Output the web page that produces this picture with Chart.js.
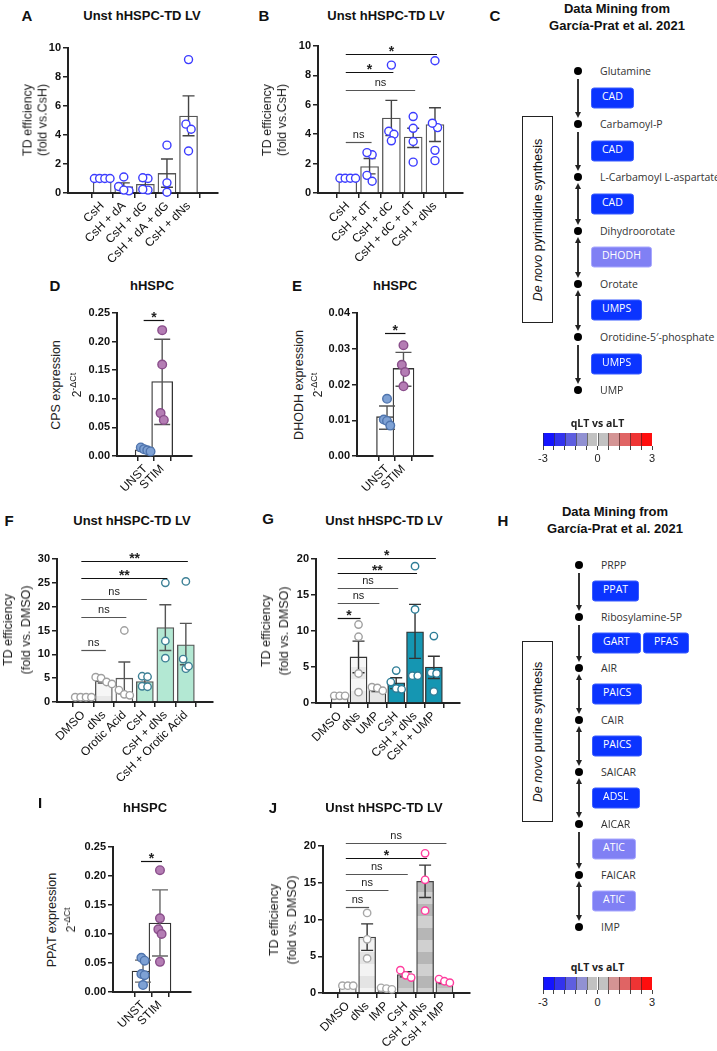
<!DOCTYPE html>
<html>
<head>
<meta charset="utf-8">
<script src="https://cdn.jsdelivr.net/npm/chart.js@4.4.0/dist/chart.umd.min.js"></script>
<style>
  body { margin: 0; width: 717px; height: 1051px; position: relative; background: #fff; overflow: hidden;
         font-family: "Liberation Sans", Arial, sans-serif; color: #111; }
  .pane { position: absolute; }
  .lbl { position: absolute; white-space: nowrap; text-align: center; }
  .dot { position: absolute; width: 8px; height: 8px; border-radius: 50%; background: #000; }
  .met { position: absolute; font: 10.5px "Open Sans", sans-serif; color: #333; transform: translateY(-50%); white-space: nowrap; }
  .enz { position: absolute; height: 21px; line-height: 21px; padding: 0 10px; border-radius: 3px; box-sizing: border-box;
         color: #fff; font: 10.5px "Open Sans", sans-serif; transform: translateY(-50%); white-space: nowrap; }
  .vline { position: absolute; width: 1.3px; background: #333; }
  .hd { position: absolute; width: 0; height: 0; border-left: 3px solid transparent; border-right: 3px solid transparent; }
  .pathbox { position: absolute; border: 1.5px solid #222; box-sizing: border-box; }
</style>
</head>
<body>
<script>
const FONT = '"Liberation Sans", Arial, sans-serif';
Chart.defaults.font.family = FONT;

// ---- A ----
const aLabels = ['CsH', 'CsH + dA', 'CsH + dG', 'CsH + dA + dG', 'CsH + dNs'];
const aMeans = [1, 0.45, 0.6, 1.35, 5.3];
const aLo = [1, 0.2, 0.35, 0.4, 3.95];
const aHi = [1, 0.7, 0.85, 2.35, 6.7];
const aPoints = [[1, 1, 1, 1], [1.1, 0.45, 0.15, 0.2], [1.0, 1.05, 0.2, 0.25], [3.3, 0.7, 0.05], [9.2, 4.75, 4.4, 2.9]];

// ---- B ----
const bLabels = ['CsH', 'CsH + dT', 'CsH + dC', 'CsH + dC + dT', 'CsH + dNs'];
const bMeans = [1, 1.8, 5.1, 3.8, 4.65];
const bLo = [1, 1.3, 3.9, 3.1, 3.5];
const bHi = [1, 2.35, 6.3, 4.4, 5.8];
const bPoints = [[1, 1, 1, 1], [2.6, 2.75, 1.2, 0.8], [8.7, 4.2, 4.0, 3.55], [5.2, 4.4, 3.5, 2.1], [9.0, 4.45, 4.75, 2.9, 2.2]];
const bSig = [[0, 1, 3.5, 'ns'], [0, 3, 7.0, 'ns'], [0, 2, 8.2, '*'], [0, 4, 9.45, '*']];

// ---- D ----
const stimLabels = ['UNST', 'STIM'];
const dMeans = [0.011, 0.13];
const dLo = [0.008, 0.055];
const dHi = [0.014, 0.204];
const dPoints = [[0.015, 0.012, 0.010, 0.008], [0.22, 0.16, 0.075, 0.063]];
const dSig = [[0, 1, 0.237, '*']];

// ---- E ----
const eMeans = [0.011, 0.0245];
const eLo = [0.0075, 0.0195];
const eHi = [0.014, 0.029];
const ePoints = [[0.016, 0.0102, 0.0098, 0.0085], [0.031, 0.0255, 0.0235, 0.0195]];
const eSig = [[0, 1, 0.0344, '*']];

// ---- F ----
const fLabels = ['DMSO', 'dNs', 'Orotic Acid', 'CsH', 'CsH + dNs', 'CsH + Orotic Acid'];
const fMeans = [1, 4.4, 5.0, 4.3, 15.6, 12.0];
const fLo = [1, 4.0, 1.7, 3.6, 10.8, 7.8];
const fHi = [1, 4.7, 8.4, 4.9, 20.4, 16.5];
const fPoints = [[1, 1, 1, 1], [5.2, 5.0, 4.2, 3.8], [15, 2.5, 1.6, 1.4], [5.4, 5.3, 3.3, 3.2], [25, 12.8, 9.2], [25.3, 9.0, 7.0, 7.5]];
const fSig = [[0, 1, 10.9, 'ns'], [0, 2, 17.9, 'ns'], [0, 3, 21.6, 'ns'], [0, 4, 26, '**'], [0, 5, 29.6, '**']];

// ---- G ----
const gLabels = ['DMSO', 'dNs', 'UMP', 'CsH', 'CsH + dNs', 'CsH + UMP'];
const gMeans = [1, 6.4, 1.8, 2.8, 9.9, 5.0];
const gLo = [1, 4.2, 1.6, 2.0, 6.2, 3.4];
const gHi = [1, 8.6, 2.1, 3.5, 13.7, 6.5];
const gPoints = [[1, 1, 1], [10.9, 9.2, 4.1, 1.5], [2.2, 2.1, 1.7], [4.5, 2.9, 2.0, 1.9], [19, 13, 3.8, 3.8], [9.3, 4.2, 4.1, 1.6]];
const gSig = [[0, 1, 11.8, '*'], [0, 2, 13.9, 'ns'], [0, 3, 16, 'ns'], [0, 4, 18, '**'], [0, 5, 20.1, '*']];

// ---- I ----
const iMeans = [0.036, 0.119];
const iLo = [0.017, 0.062];
const iHi = [0.055, 0.176];
const iPoints = [[0.059, 0.054, 0.031, 0.029, 0.012], [0.21, 0.127, 0.108, 0.1, 0.052]];
const iSig = [[0, 1, 0.226, '*']];

// ---- J ----
const jLabels = ['DMSO', 'dNs', 'IMP', 'CsH', 'CsH + dNs', 'CsH + IMP'];
const jMeans = [1, 7.6, 0.6, 2.5, 15.2, 1.5];
const jLo = [0.9, 5.8, 0.5, 2.2, 13, 1.3];
const jHi = [1.1, 9.4, 0.7, 2.9, 17.4, 1.8];
const jPoints = [[1, 1, 1], [10.9, 7.3, 4.7], [0.7, 0.6, 0.5], [3.1, 2.4, 2.1], [19, 15.4, 11.2], [1.9, 1.6, 1.4]];
const jSig = [[0, 1, 11.7, 'ns'], [0, 2, 14, 'ns'], [0, 3, 16.2, 'ns'], [0, 4, 18.4, '*'], [0, 5, 20.4, 'ns']];

// ---- pathway diagrams ----
const pyrMetab = ['Glutamine', 'Carbamoyl-P', 'L-Carbamoyl L-aspartate', 'Dihydroorotate', 'Orotate', 'Orotidine-5\u2032-phosphate', 'UMP'];
const pyrEnz = [['CAD'], ['CAD'], ['CAD'], ['DHODH'], ['UMPS'], ['UMPS']];
const pyrEnzVal = [[-3], [-3], [-3], [-1.5], [-3], [-3]];
const pyrArrows = ['d', 'd', 'b', 'b', 'b', 'd'];
const purMetab = ['PRPP', 'Ribosylamine-5P', 'AIR', 'CAIR', 'SAICAR', 'AICAR', 'FAICAR', 'IMP'];
const purEnz = [['PPAT'], ['GART', 'PFAS'], ['PAICS'], ['PAICS'], ['ADSL'], ['ATIC'], ['ATIC']];
const purEnzVal = [[-3], [-3, -3], [-3], [-3], [-3], [-2], [-2]];
const purArrows = ['d', 'd', 'b', 'b', 'b', 'd', 'b'];
const cbColors = ['#1414ff', '#3333ee', '#5e5ee0', '#9191d2', '#c2c2c2', '#c2c2c2', '#d49494', '#e06464', '#ef3434', '#ff0e0e'];
const cbTicks = [-3, 0, 3];

function label(html, x, y, style, rot) {
  const d = document.createElement('div');
  d.className = 'lbl';
  d.innerHTML = html;
  d.style.cssText = `left:${x}px;top:${y}px;transform:translate(-50%,-50%)${rot ? ' rotate(-90deg)' : ''};${style || ''}`;
  document.body.appendChild(d);
}

function el(cls, css, html) {
  const d = document.createElement('div');
  d.className = cls;
  d.style.cssText = css;
  if (html) d.innerHTML = html;
  document.body.appendChild(d);
  return d;
}

function bands(c1, c2) {
  const p = document.createElement('canvas');
  p.width = 4; p.height = 24;
  const g = p.getContext('2d');
  g.fillStyle = c1; g.fillRect(0, 0, 4, 12);
  g.fillStyle = c2; g.fillRect(0, 12, 4, 12);
  return g.createPattern(p, 'repeat');
}

// spread points of equal height sideways, like Prism does
function swarm(vals, dy, dx) {
  const order = vals.map((v, i) => i).sort((a, b) => vals[b] - vals[a]);
  const rows = [];
  order.forEach(i => {
    const row = rows.find(r => Math.abs(vals[r[0]] - vals[i]) < dy);
    if (row) row.push(i); else rows.push([i]);
  });
  const off = new Array(vals.length).fill(0);
  rows.forEach(r => r.forEach((i, j) => { off[i] = (j - (r.length - 1) / 2) * dx; }));
  return off;
}

function errorPlugin(lo, hi, cap, color) {
  return {
    id: 'errorBars',
    afterDatasetDraw(chart, args) {
      if (args.index !== 0) return;
      const { ctx } = chart;
      const x = chart.scales.x, y = chart.scales.y;
      ctx.save();
      ctx.strokeStyle = color;
      ctx.lineWidth = 1.4;
      lo.forEach((l, i) => {
        const px = x.getPixelForValue(i);
        const y1 = y.getPixelForValue(l), y2 = y.getPixelForValue(hi[i]);
        ctx.beginPath();
        ctx.moveTo(px, y1); ctx.lineTo(px, y2);
        ctx.moveTo(px - cap, y1); ctx.lineTo(px + cap, y1);
        ctx.moveTo(px - cap, y2); ctx.lineTo(px + cap, y2);
        ctx.stroke();
      });
      ctx.restore();
    }
  };
}

function sigPlugin(items) {
  return {
    id: 'sig',
    afterDraw(chart) {
      const { ctx } = chart;
      const x = chart.scales.x, y = chart.scales.y;
      ctx.save();
      items.forEach(([a, c, v, txt]) => {
        const x1 = x.getPixelForValue(a) - 2, x2 = x.getPixelForValue(c) + 2;
        const py = Math.round(y.getPixelForValue(v)) + 0.5;
        const ns = txt === 'ns';
        ctx.strokeStyle = ns ? '#555' : '#111';
        ctx.lineWidth = 1.2;
        ctx.beginPath(); ctx.moveTo(x1, py); ctx.lineTo(x2, py); ctx.stroke();
        ctx.fillStyle = '#222';
        ctx.textAlign = 'center';
        ctx.textBaseline = 'alphabetic';
        ctx.font = ns ? `11px ${FONT}` : `bold 14px ${FONT}`;
        ctx.fillText(txt, (x1 + x2) / 2, ns ? py - 5 : py + 1);
      });
      ctx.restore();
    }
  };
}

function panel(o) {
  const [cl, ct, cw, ch] = o.box;
  const [l, t, r, b] = o.area;
  const wrap = el('pane', `left:${cl}px;top:${ct}px;width:${cw}px;height:${ch}px`);
  const cv = document.createElement('canvas');
  cv.width = cw; cv.height = ch;
  wrap.appendChild(cv);

  // x labels are clipped to the x scale box, so give it all the room below the axis
  const xH = ct + ch - b - 2;

  const yUnit = o.yMax / (b - t);
  const xUnit = (o.xMax - o.xMin) / (r - l);
  const pts = [], fills = [], lines = [];
  o.points.forEach((grp, i) => {
    const off = swarm(grp, 8.5 * yUnit, 6.5 * xUnit);
    grp.forEach((v, j) => {
      pts.push({ x: i + off[j], y: v });
      fills.push(o.ptFill[i]);
      lines.push(o.ptLine[i]);
    });
  });

  const axisGrid = { display: true, drawOnChartArea: false, drawTicks: true, tickLength: 5, color: '#222', lineWidth: 1.5 };
  const axisBorder = { display: true, color: '#222', width: 2 };

  new Chart(cv, {
    type: 'bar',
    data: {
      datasets: [
        { data: o.means.map((m, i) => ({ x: i, y: m })), backgroundColor: o.barFill, borderColor: o.barLine,
          borderWidth: 1.3, borderSkipped: 'bottom', barThickness: o.barW, order: 2, clip: false },
        { type: 'scatter', data: pts, pointRadius: o.ptR, pointBackgroundColor: fills, pointBorderColor: lines,
          pointBorderWidth: 1.4, order: 1, clip: false }
      ]
    },
    options: {
      responsive: false,
      animation: false,
      events: [],
      layout: { padding: { left: l - cl - 40, top: t - ct, right: cl + cw - r, bottom: 2 } },
      plugins: { legend: { display: false }, tooltip: { enabled: false } },
      scales: {
        x: {
          type: 'linear', min: o.xMin, max: o.xMax,
          afterFit: s => { s.height = xH; },
          grid: axisGrid, border: axisBorder,
          ticks: { stepSize: 1, autoSkip: false, includeBounds: false, minRotation: 45, maxRotation: 45, padding: 1,
                   color: '#111', font: { size: 12 }, callback: v => o.labels[v] ?? '' }
        },
        y: {
          min: 0, max: o.yMax,
          afterFit: s => { s.width = 40; },
          grid: axisGrid, border: axisBorder,
          ticks: { stepSize: o.yStep, padding: 2, color: '#111', font: { size: 11, weight: 'bold' },
                   callback: v => v.toFixed(o.dec) }
        }
      }
    },
    plugins: [errorPlugin(o.lo, o.hi, o.cap, o.errColor), sigPlugin(o.sig || [])]
  });
}

function pathway(metab, enz, enzVal, arrows, x0, y0, step) {
  metab.forEach((m, k) => {
    const y = y0 + k * step;
    el('dot', `left:${x0 - 4}px;top:${y - 4}px`);
    el('met', `left:${x0 + 22}px;top:${y}px`, m);
  });
  arrows.forEach((a, k) => {
    const y1 = y0 + k * step, y2 = y1 + step;
    el('vline', `left:${x0 - 0.6}px;top:${y1 + 8}px;height:${step - 18}px`);
    el('hd', `left:${x0 - 3}px;top:${y2 - 12}px;border-top:6px solid #222`);
    if (a === 'b') el('hd', `left:${x0 - 3}px;top:${y1 + 6}px;border-bottom:6px solid #222`);
    let left = x0 + 13;
    enz[k].forEach((name, n) => {
      const strong = enzVal[k][n] <= -2.5;
      const box = el('enz', `left:${left}px;top:${(y1 + y2) / 2}px;background:${strong ? '#0b34ff' : '#8080f4'};border:1px solid ${strong ? '#3a5cff' : '#a8a8ff'}`, name);
      left += box.offsetWidth + 2;
    });
  });
}

function colorbar(x, y) {
  const w = 109, cw = w / cbColors.length;
  label('qLT vs aLT', x + w / 2, y - 10, 'font:bold 10.5px "Open Sans",sans-serif;color:#222');
  cbColors.forEach((c, k) => {
    el('pane', `left:${x + k * cw}px;top:${y}px;width:${cw}px;height:13px;background:${c};box-sizing:border-box;border-left:1px solid rgba(40,40,40,0.55)`);
  });
  for (let k = 0; k <= cbColors.length; k++) {
    el('pane', `left:${x + k * cw - 0.5}px;top:${y + 13}px;width:1px;height:4px;background:#444`);
  }
  cbTicks.forEach(v => label(String(v), x + (v + 3) / 6 * w, y + 25, 'font:11px ' + FONT + ';color:#222'));
}

// ---------- charts ----------
const blueLine = '#3c3cff';
panel({ box: [20, 30, 210, 245], area: [68, 48, 218, 193], xMin: -0.89, xMax: 4.67, yMax: 10, yStep: 2, dec: 0,
  labels: aLabels, means: aMeans, lo: aLo, hi: aHi, points: aPoints, cap: 6, errColor: '#444',
  barW: 18, barFill: '#fff', barLine: '#555', ptR: 4, ptFill: aLabels.map(() => '#fff'), ptLine: aLabels.map(() => blueLine) });

panel({ box: [270, 28, 205, 245], area: [318, 46, 463, 193], xMin: -0.7, xMax: 4.62, yMax: 10, yStep: 2, dec: 0,
  labels: bLabels, means: bMeans, lo: bLo, hi: bHi, points: bPoints, sig: bSig, cap: 6, errColor: '#444',
  barW: 18, barFill: '#fff', barLine: '#555', ptR: 4, ptFill: bLabels.map(() => '#fff'), ptLine: bLabels.map(() => blueLine) });

const stimFill = ['#7ea1d4', '#b47db4'];
const stimLine = ['#4f74ad', '#8a4e8b'];
panel({ box: [70, 295, 135, 205], area: [117, 313, 192, 456], xMin: -0.6, xMax: 1.67, yMax: 0.25, yStep: 0.05, dec: 2,
  labels: stimLabels, means: dMeans, lo: dLo, hi: dHi, points: dPoints, sig: dSig, cap: 8, errColor: '#555',
  barW: 21, barFill: '#fff', barLine: '#333', ptR: 4.3, ptFill: stimFill, ptLine: stimLine });

panel({ box: [310, 295, 135, 205], area: [357, 313, 433, 456], xMin: -0.67, xMax: 1.64, yMax: 0.04, yStep: 0.01, dec: 2,
  labels: stimLabels, means: eMeans, lo: eLo, hi: eHi, points: ePoints, sig: eSig, cap: 8, errColor: '#555',
  barW: 21, barFill: '#fff', barLine: '#333', ptR: 4.3, ptFill: stimFill, ptLine: stimLine });

const mint = '#b3e8d3', teal = '#3e8196';
panel({ box: [10, 540, 215, 262], area: [57, 559, 213, 702], xMin: -0.65, xMax: 5.69, yMax: 30, yStep: 5, dec: 0,
  labels: fLabels, means: fMeans, lo: fLo, hi: fHi, points: fPoints, sig: fSig, cap: 6, errColor: '#555',
  barW: 17, barFill: ['#fafafa', bands('#f6f6f6', '#e9e9e9'), '#fff', mint, mint, mint], barLine: '#555', ptR: 3.7,
  ptFill: fLabels.map(() => '#fff'), ptLine: ['#a0a0a0', '#a0a0a0', '#a0a0a0', teal, teal, teal] });

const tealBar = '#1596b2', tealPt = '#2d7d97';
panel({ box: [270, 535, 200, 265], area: [316, 559, 460, 703], xMin: -0.62, xMax: 5.75, yMax: 20, yStep: 5, dec: 0,
  labels: gLabels, means: gMeans, lo: gLo, hi: gHi, points: gPoints, sig: gSig, cap: 6, errColor: '#333',
  barW: 17, barFill: ['#fafafa', bands('#f6f6f6', '#e9e9e9'), bands('#f3f3f3', '#e6e6e6'), tealBar, tealBar, tealBar], barLine: '#333', ptR: 3.7,
  ptFill: gLabels.map(() => '#fff'), ptLine: ['#a0a0a0', '#a0a0a0', '#a0a0a0', tealPt, tealPt, tealPt] });

panel({ box: [65, 830, 140, 215], area: [113, 847, 191, 992], xMin: -0.62, xMax: 1.68, yMax: 0.25, yStep: 0.05, dec: 2,
  labels: stimLabels, means: iMeans, lo: iLo, hi: iHi, points: iPoints, sig: iSig, cap: 8, errColor: '#666',
  barW: 22, barFill: '#fff', barLine: '#333', ptR: 4.3, ptFill: stimFill, ptLine: stimLine });

const pink = '#ff3d9e';
panel({ box: [275, 820, 210, 231], area: [323, 846, 470, 993], xMin: -0.65, xMax: 5.69, yMax: 20, yStep: 5, dec: 0,
  labels: jLabels, means: jMeans, lo: jLo, hi: jHi, points: jPoints, sig: jSig, cap: 6, errColor: '#333',
  barW: 17, barFill: [bands('#f3f3f3', '#e9e9e9'), bands('#f3f3f3', '#e4e4e4'), bands('#f0f0f0', '#e4e4e4'),
    bands('#d2d2d2', '#bdbdbd'), bands('#d0d0d0', '#b6b6b6'), bands('#d2d2d2', '#bdbdbd')], barLine: '#444', ptR: 3.7,
  ptFill: jLabels.map(() => '#fff'), ptLine: ['#a8a8a8', '#a8a8a8', '#a8a8a8', pink, pink, pink] });

// ---------- titles, letters, axis titles ----------
const letter = 'font:bold 15px ' + FONT;
const title = 'font:bold 13px ' + FONT;
const ytitle = 'font:12.5px ' + FONT + ';color:#222;';
label('A', 27, 15, letter);  label('Unst hHSPC-TD LV', 142, 15, title);
label('B', 264, 15, letter); label('Unst hHSPC-TD LV', 386, 15, title);
label('C', 495, 15, letter);
label('Data Mining from<br>Garc\u00eda-Prat et al. 2021', 617, 17, title + ';line-height:17px');
label('D', 55, 285, letter); label('hHSPC', 152, 285, title);
label('E', 297, 285, letter); label('hHSPC', 395, 285, title);
label('F', 9, 520, letter);  label('Unst hHSPC-TD LV', 132, 520, title);
label('G', 268, 518, letter); label('Unst hHSPC-TD LV', 384, 520, title);
label('H', 503, 520, letter);
label('Data Mining from<br>Garc\u00eda-Prat et al. 2021', 615, 520, title + ';line-height:17px');
label('I', 40, 802, letter); label('hHSPC', 145, 807, title);
label('J', 273, 807, letter); label('Unst hHSPC-TD LV', 384, 807, title);

const twoCt = '<span style="font-size:12px">2</span><span style="font-size:9px;position:relative;top:-5px">-\u0394Ct</span>';
label('TD efficiency<br>(fold vs.CsH)', 35, 120, ytitle + 'line-height:14.5px', true);
label('TD efficiency<br>(fold vs.CsH)', 275, 120, ytitle + 'line-height:15px', true);
label('CPS expression', 56, 385, ytitle, true);
label(twoCt, 77, 385, ytitle, true);
label('DHODH expression', 299, 385, ytitle, true);
label(twoCt, 318, 385, ytitle, true);
label('TD efficiency<br>(fold vs. DMSO)', 17, 630, ytitle + 'line-height:18px', true);
label('TD efficiency<br>(fold vs. DMSO)', 275, 631, ytitle + 'line-height:18px', true);
label('PPAT expression', 52, 920, ytitle, true);
label(twoCt, 71, 920, ytitle, true);
label('TD efficiency<br>(fold vs. DMSO)', 283, 920, ytitle + 'line-height:18px', true);

// ---------- pathway panels ----------
el('pathbox', 'left:522px;top:116px;width:31px;height:207px');
label('<i>De novo</i> pyrimidine synthesis', 537.5, 219.5, 'font:12.5px ' + FONT, true);
pathway(pyrMetab, pyrEnz, pyrEnzVal, pyrArrows, 578, 71, 53.2);
colorbar(543, 433);

el('pathbox', 'left:522px;top:641px;width:31px;height:181px');
label('<i>De novo</i> purine synthesis', 537.5, 731.5, 'font:12.5px ' + FONT, true);
pathway(purMetab, purEnz, purEnzVal, purArrows, 579, 565, 51.7);
colorbar(543, 977);
</script>
</body>
</html>
